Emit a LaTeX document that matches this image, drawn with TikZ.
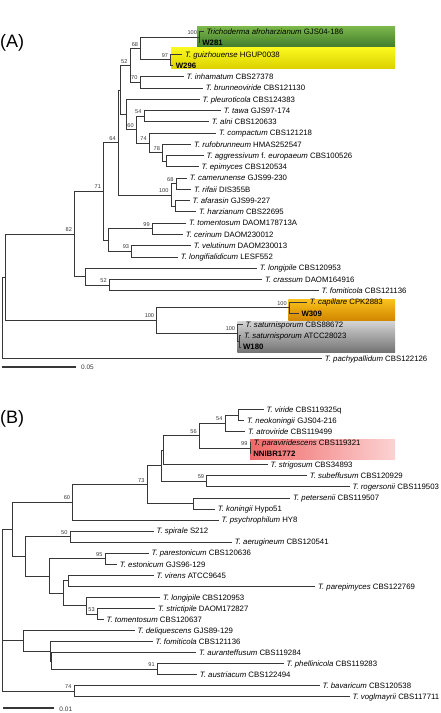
\documentclass[tikz,border=0pt]{standalone}
\usepackage{fontspec}
\setmainfont{Liberation Sans}
\definecolor{treegray}{RGB}{55,55,55}
\definecolor{hlgreenA}{RGB}{125,185,75}
\definecolor{hlgreenB}{RGB}{65,125,45}
\definecolor{hlyellowA}{RGB}{250,248,30}
\definecolor{hlyellowB}{RGB}{220,210,0}
\definecolor{hlorangeA}{RGB}{250,195,30}
\definecolor{hlorangeB}{RGB}{210,135,0}
\definecolor{hlgrayA}{RGB}{210,210,210}
\definecolor{hlgrayB}{RGB}{115,115,115}
\definecolor{hlpinkA}{RGB}{240,105,105}
\definecolor{hlpinkB}{RGB}{252,210,210}
\usetikzlibrary{positioning}

\begin{document}
\begin{tikzpicture}[x=1pt, y=-1pt,
  branch/.style={draw=treegray, line width=0.8pt},
  leaf/.style={anchor=base west, inner sep=0pt, xshift=2.6pt, yshift=-2.8pt, font=\fontsize{7.8}{9}\selectfont},
  strain/.style={leaf, font=\fontsize{7.8}{9}\selectfont\bfseries},
  boot/.style={anchor=south east, inner sep=0pt, xshift=-2.4pt, yshift=2.2pt, font=\fontsize{5.6}{6}\selectfont, text=treegray},
  panel/.style={anchor=west, inner sep=0pt, font=\fontsize{18}{20}\selectfont},
  scalelab/.style={anchor=west, inner sep=0pt, font=\fontsize{6.5}{7}\selectfont, text=treegray}]
  \useasboundingbox (0,0) rectangle (440,713);

  % ---------------- Panel A ----------------
  \node[panel] (pA) at (0,43) {(A)};
  % highlight boxes
  \shade[top color=hlgreenA, bottom color=hlgreenB] (197,26) rectangle (395,46.7);
  \shade[top color=hlyellowA, bottom color=hlyellowB] (171,47.7) rectangle (395,68.3);
  \shade[top color=hlorangeA, bottom color=hlorangeB] (288.3,299) rectangle (395,320);
  \shade[top color=hlgrayA, bottom color=hlgrayB] (237.3,321.7) rectangle (395,352.3);

  % leaves
  \path (203.7,31.7) coordinate (afro) node[leaf] (afroL) {\textit{Trichoderma afroharzianum} GJS04-186};
  \path (199.5,42.96) coordinate (w281) node[strain] (w281L) {W281};
  \path (182.3,54.22) coordinate (guiz) node[leaf] (guizL) {\textit{T. guizhouense} HGUP0038};
  \path (173,65.48) coordinate (w296) node[strain] (w296L) {W296};
  \path (183.7,76.74) coordinate (inham) node[leaf] (inhamL) {\textit{T. inhamatum} CBS27378};
  \path (203,88.0) coordinate (brunn) node[leaf] (brunnL) {\textit{T. brunneoviride} CBS121130};
  \path (199.7,99.26) coordinate (pleuro) node[leaf] (pleuroL) {\textit{T. pleuroticola} CBS124383};
  \path (221,110.52) coordinate (tawa) node[leaf] (tawaL) {\textit{T. tawa} GJS97-174};
  \path (209,121.78) coordinate (alni) node[leaf] (alniL) {\textit{T. alni} CBS120633};
  \path (216.3,133.04) coordinate (compact) node[leaf] (compactL) {\textit{T. compactum} CBS121218};
  \path (191.3,144.3) coordinate (rufo) node[leaf] (rufoL) {\textit{T. rufobrunneum} HMAS252547};
  \path (203.7,155.56) coordinate (aggr) node[leaf] (aggrL) {\textit{T. aggressivum} f. \textit{europaeum} CBS100526};
  \path (198.7,166.82) coordinate (epim) node[leaf] (epimL) {\textit{T. epimyces} CBS120534};
  \path (187,178.08) coordinate (camer) node[leaf] (camerL) {\textit{T. camerunense} GJS99-230};
  \path (191.3,189.34) coordinate (rifaii) node[leaf] (rifaiiL) {\textit{T. rifaii} DIS355B};
  \path (189.7,200.6) coordinate (afar) node[leaf] (afarL) {\textit{T. afarasin} GJS99-227};
  \path (196.3,211.86) coordinate (harz) node[leaf] (harzL) {\textit{T. harzianum} CBS22695};
  \path (186.3,223.12) coordinate (tomA) node[leaf] (tomAL) {\textit{T. tomentosum} DAOM178713A};
  \path (183,234.38) coordinate (cerin) node[leaf] (cerinL) {\textit{T. cerinum} DAOM230012};
  \path (191,245.64) coordinate (velut) node[leaf] (velutL) {\textit{T. velutinum} DAOM230013};
  \path (178,256.9) coordinate (longif) node[leaf] (longifL) {\textit{T. longifialidicum} LESF552};
  \path (257,268.16) coordinate (lpA) node[leaf] (lpAL) {\textit{T. longipile} CBS120953};
  \path (262.3,279.42) coordinate (crass) node[leaf] (crassL) {\textit{T. crassum} DAOM164916};
  \path (318.7,290.68) coordinate (fomA) node[leaf] (fomAL) {\textit{T. fomiticola} CBS121136};
  \path (307,301.94) coordinate (capil) node[leaf] (capilL) {\textit{T. capillare} CPK2883};
  \path (298.7,313.2) coordinate (w309) node[strain] (w309L) {W309};
  \path (242.7,324.46) coordinate (satA) node[leaf] (satAL) {\textit{T. saturnisporum} CBS88672};
  \path (241.3,335.72) coordinate (satB) node[leaf] (satBL) {\textit{T. saturnisporum} ATCC28023};
  \path (240.3,346.98) coordinate (w180) node[strain] (w180L) {W180};
  \path (322,358.24) coordinate (pachy) node[leaf] (pachyL) {\textit{T. pachypallidum} CBS122126};

  % internal nodes
  \coordinate (a100a) at (199.5,37.33);
  \coordinate (a97) at (170.7,59.85);
  \coordinate (a68) at (140.7,48.6);
  \coordinate (a70) at (140,82.37);
  \coordinate (a52) at (130,65.5);
  \coordinate (a54) at (144,116.15);
  \coordinate (aAgg) at (166.7,161.19);
  \coordinate (a78) at (162.5,152.75);
  \coordinate (a74) at (149.3,142.9);
  \coordinate (a60) at (136.3,129.5);
  \coordinate (aPl) at (126.2,114.4);
  \coordinate (aH) at (120,89.95);
  \coordinate (a68b) at (176,183.71);
  \coordinate (aAf) at (175.5,206.23);
  \coordinate (a100c) at (171,194.97);
  \coordinate (a64) at (118.3,142.46);
  \coordinate (a99) at (152.3,228.75);
  \coordinate (a93) at (131.7,251.27);
  \coordinate (aTc) at (108.3,240.01);
  \coordinate (a71) at (103.5,191.2);
  \coordinate (a52b) at (109.3,285.05);
  \coordinate (aLp) at (85,276.6);
  \coordinate (a82) at (74.5,233.9);
  \coordinate (a100d) at (289.3,307.57);
  \coordinate (aSat) at (239.5,341.35);
  \coordinate (a100e) at (237.7,332.9);
  \coordinate (a100b) at (156.7,320.2);
  \coordinate (aX) at (5.7,277.05);
  \coordinate (aR) at (2.7,277.05);

  % branches
  \draw[branch] (a100a) |- (afro) (a100a) |- (w281);
  \draw[branch] (a97) |- (guiz) (a97) |- (w296);
  \draw[branch] (a68) |- (a100a) (a68) |- (a97);
  \draw[branch] (a70) |- (inham) (a70) |- (brunn);
  \draw[branch] (a52) |- (a68) (a52) |- (a70);
  \draw[branch] (a54) |- (tawa) (a54) |- (alni);
  \draw[branch] (aAgg) |- (aggr) (aAgg) |- (epim);
  \draw[branch] (a78) |- (rufo) (a78) |- (aAgg);
  \draw[branch] (a74) |- (compact) (a74) |- (a78);
  \draw[branch] (a60) |- (a54) (a60) |- (a74);
  \draw[branch] (aPl) |- (pleuro) (aPl) |- (a60);
  \draw[branch] (aH) |- (a52) (aH) |- (aPl);
  \draw[branch] (a68b) |- (camer) (a68b) |- (rifaii);
  \draw[branch] (aAf) |- (afar) (aAf) |- (harz);
  \draw[branch] (a100c) |- (a68b) (a100c) |- (aAf);
  \draw[branch] (a64) |- (aH) (a64) |- (a100c);
  \draw[branch] (a99) |- (tomA) (a99) |- (cerin);
  \draw[branch] (a93) |- (velut) (a93) |- (longif);
  \draw[branch] (aTc) |- (a99) (aTc) |- (a93);
  \draw[branch] (a71) |- (a64) (a71) |- (aTc);
  \draw[branch] (a52b) |- (crass) (a52b) |- (fomA);
  \draw[branch] (aLp) |- (lpA) (aLp) |- (a52b);
  \draw[branch] (a82) |- (a71) (a82) |- (aLp);
  \draw[branch] (a100d) |- (capil) (a100d) |- (w309);
  \draw[branch] (aSat) |- (satB) (aSat) |- (w180);
  \draw[branch] (a100e) |- (satA) (a100e) |- (aSat);
  \draw[branch] (a100b) |- (a100d) (a100b) |- (a100e);
  \draw[branch] (aX) |- (a82) (aX) |- (a100b);
  \draw[branch] (aR) |- (aX) (aR) |- (pachy);

  % bootstrap values
  \node[boot] (ba100a) at (a100a) {100};
  \node[boot] (ba97) at (a97) {97};
  \node[boot] (ba68) at (a68) {68};
  \node[boot] (ba70) at (a70) {70};
  \node[boot] (ba52) at (a52) {52};
  \node[boot] (ba54) at (a54) {54};
  \node[boot] (ba60) at (a60) {60};
  \node[boot] (ba74) at (a74) {74};
  \node[boot] (ba78) at (a78) {78};
  \node[boot] (ba68b) at (a68b) {68};
  \node[boot] (ba100c) at (a100c) {100};
  \node[boot] (ba64) at (a64) {64};
  \node[boot] (ba71) at (a71) {71};
  \node[boot] (ba82) at (a82) {82};
  \node[boot] (ba99) at (a99) {99};
  \node[boot] (ba93) at (a93) {93};
  \node[boot] (ba52b) at (a52b) {52};
  \node[boot] (ba100d) at (a100d) {100};
  \node[boot] (ba100e) at (a100e) {100};
  \node[boot] (ba100b) at (a100b) {100};

  % scale bar
  \coordinate (sA1) at (1.7,366.7);
  \coordinate (sA2) at (76,366.7);
  \draw[treegray, line width=1.6pt] (sA1) -- (sA2);
  \node[scalelab] (sAL) at (81,367.5) {0.05};

  % ---------------- Panel B ----------------
  \node[panel] (pB) at (0,419) {(B)};
  \shade[left color=hlpinkA, right color=hlpinkB] (250,439) rectangle (395,459.3);

  % leaves
  \path (263.7,409.5) coordinate (virid) node[leaf] (viridL) {\textit{T. viride} CBS119325q};
  \path (244.3,420.55) coordinate (neok) node[leaf] (neokL) {\textit{T. neokoningii} GJS04-216};
  \path (245.3,431.6) coordinate (atrov) node[leaf] (atrovL) {\textit{T. atroviride} CBS119499};
  \path (251,442.65) coordinate (parav) node[leaf] (paravL) {\textit{T. paraviridescens} CBS119321};
  \path (250.5,453.7) coordinate (nnibr) node[strain] (nnibrL) {NNIBR1772};
  \path (267.7,464.75) coordinate (strig) node[leaf] (strigL) {\textit{T. strigosum} CBS34893};
  \path (307,475.8) coordinate (subeff) node[leaf] (subeffL) {\textit{T. subeffusum} CBS120929};
  \path (349.7,486.85) coordinate (roger) node[leaf] (rogerL) {\textit{T. rogersonii} CBS119503};
  \path (290.3,497.9) coordinate (peter) node[leaf] (peterL) {\textit{T. petersenii} CBS119507};
  \path (215,508.95) coordinate (koning) node[leaf] (koningL) {\textit{T. koningii} Hypo51};
  \path (218.7,520.0) coordinate (psych) node[leaf] (psychL) {\textit{T. psychrophilum} HY8};
  \path (153.7,531.05) coordinate (spir) node[leaf] (spirL) {\textit{T. spirale} S212};
  \path (232,542.1) coordinate (aerug) node[leaf] (aerugL) {\textit{T. aerugineum} CBS120541};
  \path (148.7,553.15) coordinate (parest) node[leaf] (parestL) {\textit{T. parestonicum} CBS120636};
  \path (117,564.2) coordinate (eston) node[leaf] (estonL) {\textit{T. estonicum} GJS96-129};
  \path (153.7,575.25) coordinate (virens) node[leaf] (virensL) {\textit{T. virens} ATCC9645};
  \path (315.3,586.3) coordinate (parep) node[leaf] (parepL) {\textit{T. parepimyces} CBS122769};
  \path (160.3,597.35) coordinate (lpB) node[leaf] (lpBL) {\textit{T. longipile} CBS120953};
  \path (155.3,608.4) coordinate (strict) node[leaf] (strictL) {\textit{T. strictipile} DAOM172827};
  \path (103.7,619.45) coordinate (tomB) node[leaf] (tomBL) {\textit{T. tomentosum} CBS120637};
  \path (134.7,630.5) coordinate (deliq) node[leaf] (deliqL) {\textit{T. deliquescens} GJS89-129};
  \path (152.7,641.55) coordinate (fomB) node[leaf] (fomBL) {\textit{T. fomiticola} CBS121136};
  \path (196.3,652.6) coordinate (auran) node[leaf] (auranL) {\textit{T. auranteffusum} CBS119284};
  \path (283.7,663.65) coordinate (phell) node[leaf] (phellL) {\textit{T. phellinicola} CBS119283};
  \path (197,674.7) coordinate (austr) node[leaf] (austrL) {\textit{T. austriacum} CBS122494};
  \path (319.7,685.75) coordinate (bavar) node[leaf] (bavarL) {\textit{T. bavaricum} CBS120538};
  \path (349.7,696.8) coordinate (vogl) node[leaf] (voglL) {\textit{T. voglmayrii} CBS117711};

  % internal nodes
  \coordinate (bVn) at (238.3,415.03);
  \coordinate (b54) at (225,423.3);
  \coordinate (b99) at (250,448.2);
  \coordinate (b56) at (199.3,435.75);
  \coordinate (bP2) at (163.3,450.25);
  \coordinate (b59) at (206.7,481.3);
  \coordinate (bP1) at (161.7,465.8);
  \coordinate (bPk) at (193.3,503.4);
  \coordinate (b73) at (147,484.6);
  \coordinate (b60) at (72.7,502.3);
  \coordinate (b50) at (70,536.6);
  \coordinate (b95) at (105,558.7);
  \coordinate (bT) at (68.3,580.8);
  \coordinate (b53) at (97.3,613.9);
  \coordinate (bS) at (86,605.6);
  \coordinate (bU) at (63.3,593.2);
  \coordinate (bV) at (49,575.95);
  \coordinate (bW) at (25.7,556.3);
  \coordinate (bY) at (12.3,529.3);
  \coordinate (b91) at (157.3,669.2);
  \coordinate (bQ2) at (51.7,660.9);
  \coordinate (bQ) at (50,651.2);
  \coordinate (bDel) at (23.3,640.85);
  \coordinate (b74) at (74,691.3);
  \coordinate (bR) at (2.7,529.3);

  % branches
  \draw[branch] (bVn) |- (virid) (bVn) |- (neok);
  \draw[branch] (b54) |- (bVn) (b54) |- (atrov);
  \draw[branch] (b99) |- (parav) (b99) |- (nnibr);
  \draw[branch] (b56) |- (b54) (b56) |- (b99);
  \draw[branch] (bP2) |- (b56) (bP2) |- (strig);
  \draw[branch] (b59) |- (subeff) (b59) |- (roger);
  \draw[branch] (bP1) |- (bP2) (bP1) |- (b59);
  \draw[branch] (bPk) |- (peter) (bPk) |- (koning);
  \draw[branch] (b73) |- (bP1) (b73) |- (bPk);
  \draw[branch] (b60) |- (b73) (b60) |- (psych);
  \draw[branch] (b50) |- (spir) (b50) |- (aerug);
  \draw[branch] (b95) |- (parest) (b95) |- (eston);
  \draw[branch] (bT) |- (virens) (bT) |- (parep);
  \draw[branch] (b53) |- (strict) (b53) |- (tomB);
  \draw[branch] (bS) |- (lpB) (bS) |- (b53);
  \draw[branch] (bU) |- (bT) (bU) |- (bS);
  \draw[branch] (bV) |- (b95) (bV) |- (bU);
  \draw[branch] (bW) |- (b50) (bW) |- (bV);
  \draw[branch] (bY) |- (b60) (bY) |- (bW);
  \draw[branch] (b91) |- (phell) (b91) |- (austr);
  \draw[branch] (bQ2) |- (auran) (bQ2) |- (b91);
  \draw[branch] (bQ) |- (fomB) (bQ) |- (bQ2);
  \draw[branch] (bDel) |- (deliq) (bDel) |- (bQ);
  \draw[branch] (b74) |- (bavar) (b74) |- (vogl);
  \draw[branch] (bR) |- (bY) (bR) |- (bDel) (bR) |- (b74);

  % bootstrap values
  \node[boot] (bb54) at (b54) {54};
  \node[boot] (bb56) at (b56) {56};
  \node[boot] (bb99) at (b99) {99};
  \node[boot] (bb59) at (b59) {59};
  \node[boot] (bb73) at (b73) {73};
  \node[boot] (bb60) at (b60) {60};
  \node[boot] (bb50) at (b50) {50};
  \node[boot] (bb95) at (b95) {95};
  \node[boot] (bb53) at (b53) {53};
  \node[boot] (bb91) at (b91) {91};
  \node[boot] (bb74) at (b74) {74};

  % scale bar
  \coordinate (sB1) at (3.3,707.7);
  \coordinate (sB2) at (54,707.7);
  \draw[treegray, line width=1.6pt] (sB1) -- (sB2);
  \node[scalelab] (sBL) at (59.3,709) {0.01};
\end{tikzpicture}
\end{document}
